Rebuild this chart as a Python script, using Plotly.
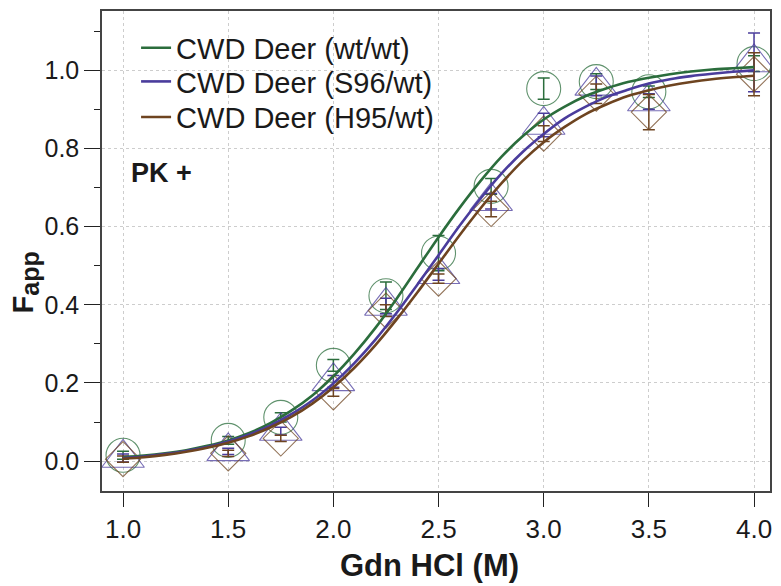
import plotly.graph_objects as go

# ---------------- data ----------------
gdn = [1.0, 1.5, 1.75, 2.0, 2.25, 2.5, 2.75, 3.0, 3.25, 3.5, 4.0]

wt_wt = [0.015, 0.053, 0.112, 0.245, 0.423, 0.532, 0.703, 0.953, 0.971, 0.945, 1.017]
wt_wt_err = [0.01, 0.01, 0.012, 0.015, 0.035, 0.045, 0.02, 0.027, 0.02, 0.015, 0.02]

s96_wt = [0.008, 0.025, 0.077, 0.204, 0.397, 0.478, 0.665, 0.860, 0.960, 0.920, 1.020]
s96_wt_err = [0.01, 0.008, 0.01, 0.015, 0.02, 0.015, 0.02, 0.03, 0.025, 0.02, 0.075]

h95_wt = [0.005, 0.020, 0.058, 0.176, 0.385, 0.467, 0.645, 0.838, 0.940, 0.893, 0.990]
h95_wt_err = [0.008, 0.008, 0.008, 0.01, 0.015, 0.012, 0.02, 0.02, 0.025, 0.045, 0.055]

# fitted curves at 0.1 M steps
fit_x = [round(1.0 + 0.1 * i, 1) for i in range(31)]
fit_wt_wt = [0.010, 0.014, 0.020, 0.028, 0.039, 0.053, 0.072, 0.097, 0.129, 0.168,
             0.217, 0.275, 0.341, 0.415, 0.494, 0.573, 0.648, 0.717, 0.779, 0.831,
             0.874, 0.907, 0.934, 0.954, 0.970, 0.981, 0.990, 0.997, 1.002, 1.005, 1.008]
fit_s96_wt = [0.008, 0.012, 0.018, 0.026, 0.036, 0.050, 0.068, 0.091, 0.120, 0.155,
              0.199, 0.251, 0.311, 0.379, 0.452, 0.527, 0.602, 0.672, 0.736, 0.791,
              0.837, 0.877, 0.907, 0.932, 0.950, 0.966, 0.977, 0.985, 0.991, 0.996, 1.000]
fit_h95_wt = [0.006, 0.010, 0.016, 0.024, 0.034, 0.047, 0.064, 0.086, 0.113, 0.147,
              0.189, 0.239, 0.297, 0.362, 0.432, 0.505, 0.578, 0.647, 0.711, 0.768,
              0.816, 0.855, 0.888, 0.913, 0.934, 0.949, 0.961, 0.970, 0.977, 0.982, 0.986]

names = ["CWD Deer (wt/wt)", "CWD Deer (S96/wt)", "CWD Deer (H95/wt)"]
x_ticks = [1.0, 1.5, 2.0, 2.5, 3.0, 3.5, 4.0]
x_tick_labels = ["1.0", "1.5", "2.0", "2.5", "3.0", "3.5", "4.0"]
y_ticks = [0.0, 0.2, 0.4, 0.6, 0.8, 1.0]
y_tick_labels = ["0.0", "0.2", "0.4", "0.6", "0.8", "1.0"]

# ---------------- style ----------------
GREEN = "#2b6d3c"
PURPLE = "#4a3c9c"
BROWN = "#6e4420"
FONT = "Liberation Sans, Arial, sans-serif"
TXT = "#1a1a1a"

fig = go.Figure()

series = [
    (wt_wt, wt_wt_err, fit_wt_wt, GREEN, "circle-open", 34, "legend"),
    (s96_wt, s96_wt_err, fit_s96_wt, PURPLE, "triangle-up-open", 37, "legend2"),
    (h95_wt, h95_wt_err, fit_h95_wt, BROWN, "diamond-open", 27, "legend3"),
]

for (vals, errs, fit, col, sym, sz, lg) in series:
    fig.add_trace(go.Scatter(
        x=gdn, y=vals, mode="markers", showlegend=False,
        marker=dict(symbol=sym, size=sz, color=col, line=dict(color=col, width=1.1), opacity=0.75),
        error_y=dict(type="data", array=errs, visible=True, color=col, thickness=1.5, width=6),
        hoverinfo="skip",
    ))

for (vals, errs, fit, col, sym, sz, lg), name in zip(series, names):
    fig.add_trace(go.Scatter(
        x=fit_x, y=fit, mode="lines", name=name, legend=lg,
        line=dict(color=col, width=2.6, shape="spline", smoothing=0.8),
    ))

legend_common = dict(xanchor="left", yanchor="middle", bgcolor="rgba(0,0,0,0)",
                     borderwidth=0, font=dict(family=FONT, size=29, color=TXT))
fig.update_layout(
    legend=dict(x=0.051, y=0.923, **legend_common),
    legend2=dict(x=0.051, y=0.853, **legend_common),
    legend3=dict(x=0.051, y=0.779, **legend_common),
)

fig.update_xaxes(
    range=[0.9, 4.076], tickvals=x_ticks, ticktext=x_tick_labels,
    ticks="outside", ticklen=14, tickwidth=1.3, tickcolor="#222",
    tickfont=dict(family=FONT, size=26, color=TXT),
    showline=True, linecolor="#444", linewidth=1.5, mirror=True,
    showgrid=True, gridcolor="#cdcdcd", gridwidth=1, griddash="dot",
    zeroline=False,
)
fig.update_yaxes(
    range=[-0.0764, 1.1516], tickvals=y_ticks, ticktext=y_tick_labels,
    ticks="outside", ticklen=16, tickwidth=1.3, tickcolor="#222",
    tickfont=dict(family=FONT, size=25, color=TXT),
    minor=dict(dtick=0.1, tick0=0, ticks="outside", ticklen=6, tickwidth=1.3,
               tickcolor="#222", showgrid=False),
    showline=True, linecolor="#444", linewidth=1.5, mirror=True,
    showgrid=True, gridcolor="#cdcdcd", gridwidth=1, griddash="dot",
    zeroline=False,
)

fig.add_annotation(text='<b>F<sub><span style="font-size:25px">app</span></sub></b>',
                   xref="paper", yref="paper",
                   x=-0.115, y=0.435, xanchor="center", yanchor="middle",
                   textangle=-90, showarrow=False,
                   font=dict(family=FONT, size=29, color=TXT))
fig.add_annotation(text="<b>Gdn HCl (M)</b>", xref="paper", yref="paper",
                   x=0.49, y=-0.156, xanchor="center", yanchor="middle",
                   showarrow=False, font=dict(family=FONT, size=31, color=TXT))
fig.add_annotation(text="<b>PK +</b>", xref="paper", yref="paper",
                   x=0.0897, y=0.662, xanchor="center", yanchor="middle",
                   showarrow=False, font=dict(family=FONT, size=27, color=TXT))

fig.update_layout(
    width=781, height=586,
    margin=dict(l=102, r=10, t=9, b=95),
    paper_bgcolor="white", plot_bgcolor="white",
    font=dict(family=FONT, color=TXT),
)

fig.write_html("out.html")
